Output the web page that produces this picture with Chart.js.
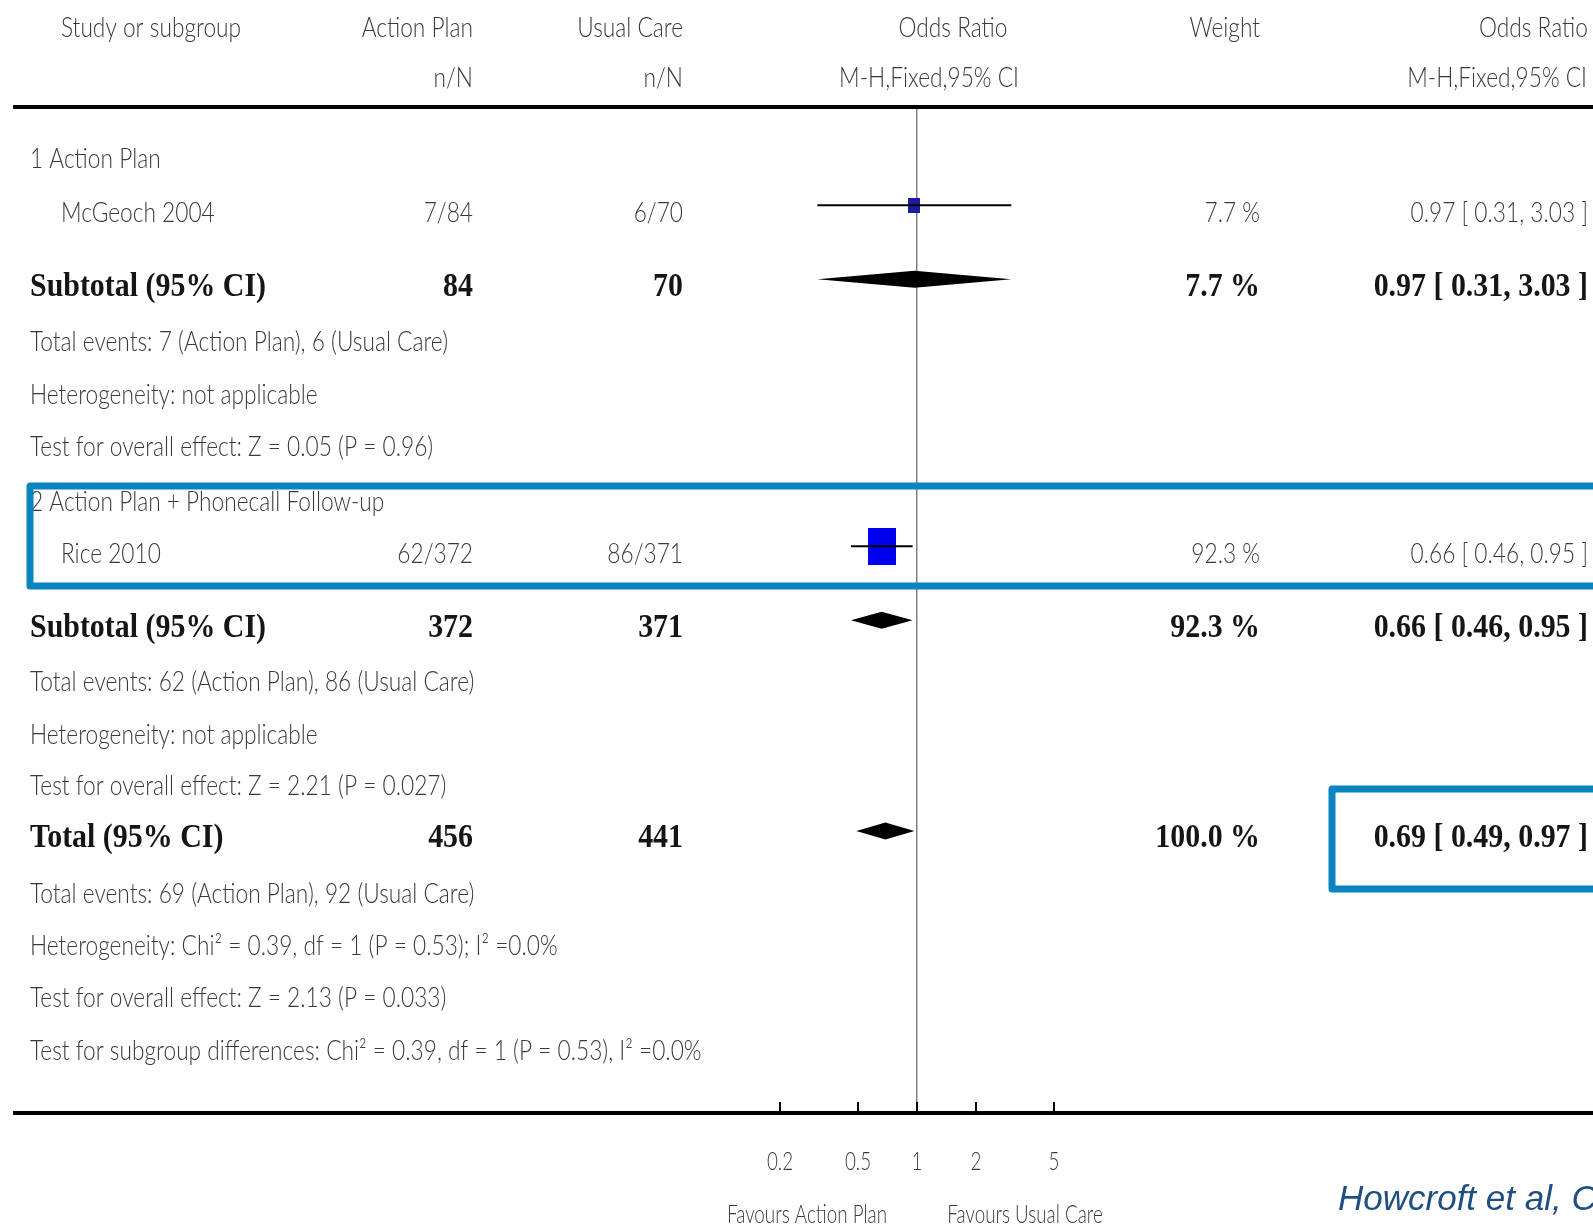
<!DOCTYPE html>
<html>
<head>
<meta charset="utf-8">
<script src="https://cdn.jsdelivr.net/npm/chart.js@4.4.1/dist/chart.umd.min.js"></script>
<style>
  html, body { margin: 0; padding: 0; background: #fff; }
  canvas { display: block; }
</style>
</head>
<body>
<canvas id="forest" width="1593" height="1227"></canvas>
<script>
// ---- data ----
const groupTitles = ['1 Action Plan', '2 Action Plan + Phonecall Follow-up'];
const studyNames = ['McGeoch 2004', 'Rice 2010'];
const apEvents = [7, 62];
const apTotal = [84, 372];
const ucEvents = [6, 86];
const ucTotal = [70, 371];
const studyOR = [0.97, 0.66];
const studyLo = [0.31, 0.46];
const studyHi = [3.03, 0.95];
const studyWeight = [7.7, 92.3];

const pooledNames = ['Subtotal (95% CI)', 'Subtotal (95% CI)', 'Total (95% CI)'];
const pooledAP = [84, 372, 456];
const pooledUC = [70, 371, 441];
const pooledOR = [0.97, 0.66, 0.69];
const pooledLo = [0.31, 0.46, 0.49];
const pooledHi = [3.03, 0.95, 0.97];
const pooledWeight = [7.7, 92.3, 100.0];

const notes = [
  ['Total events: 7 (Action Plan), 6 (Usual Care)', 'Heterogeneity: not applicable', 'Test for overall effect: Z = 0.05 (P = 0.96)'],
  ['Total events: 62 (Action Plan), 86 (Usual Care)', 'Heterogeneity: not applicable', 'Test for overall effect: Z = 2.21 (P = 0.027)'],
  ['Total events: 69 (Action Plan), 92 (Usual Care)', 'Heterogeneity: Chi\u00b2 = 0.39, df = 1 (P = 0.53); I\u00b2 =0.0%',
   'Test for overall effect: Z = 2.13 (P = 0.033)', 'Test for subgroup differences: Chi\u00b2 = 0.39, df = 1 (P = 0.53), I\u00b2 =0.0%']
];

const xTicks = [0.2, 0.5, 1, 2, 5];
const xTickLabels = ['0.2', '0.5', '1', '2', '5'];
const favourLabels = ['Favours Action Plan', 'Favours Usual Care'];

// ---- layout (table lines on the y scale) ----
const headerRows = [-2.5, -1.54];
const groupRows = [0, 6.52];
const studyRows = [1.02, 7.51];
const pooledRows = [2.43, 8.92, 12.93];
const noteRows = [[3.47, 4.48, 5.47], [9.94, 10.95, 11.92], [13.98, 14.97, 15.96, 16.97]];
const squareSize = [[12, 15], [28, 37]];
const squareColor = ['#1c1c9c', '#0000ee'];

const col = { study: 61, left: 30, ap: 473, uc: 683, weight: 1260, or: 1588 };
const textDy = 8;

const body = { font: '300 27px Lato, "Open Sans", sans-serif', color: '#3a3a3a', sx: 1 };
const axis = { font: '300 25px Lato, "Open Sans", sans-serif', color: '#3a3a3a', sx: 1 };
const bold = { font: 'bold 33px "Liberation Serif", "Times New Roman", serif', color: '#151515', sx: 1 };

function text(ctx, s, x, y, st, align) {
  ctx.save();
  ctx.font = st.font;
  ctx.fillStyle = st.color;
  ctx.textBaseline = 'middle';
  ctx.textAlign = 'left';
  const w = ctx.measureText(s).width * st.sx;
  const left = align === 'right' ? x - w : align === 'center' ? x - w / 2 : x;
  ctx.translate(left, y);
  ctx.scale(st.sx, 1);
  ctx.fillText(s, 0, 0);
  ctx.restore();
}

// squeeze the installed fonts to the narrow widths of the original typeface
function calibrate(ctx) {
  ctx.save();
  ctx.font = body.font;
  body.sx = 418 / ctx.measureText(notes[0][0]).width;
  ctx.font = axis.font;
  axis.sx = 160 / ctx.measureText(favourLabels[0]).width;
  ctx.font = bold.font;
  bold.sx = 236 / ctx.measureText(pooledNames[0]).width;
  ctx.restore();
}

function squareImg(w, h, color) {
  const c = document.createElement('canvas');
  c.width = w; c.height = h;
  const g = c.getContext('2d');
  g.fillStyle = color;
  g.fillRect(0, 0, w, h);
  return c;
}

const fmt = v => v.toFixed(2);
const orText = (o, l, h) => `${fmt(o)} [ ${fmt(l)}, ${fmt(h)} ]`;

// one line dataset per study CI
const ciDatasets = studyOR.map((_, i) => ({
  type: 'line',
  data: [{ x: studyLo[i], y: studyRows[i] }, { x: studyHi[i], y: studyRows[i] }],
  borderColor: '#000',
  borderWidth: 2,
  pointRadius: 0,
  order: 1
}));

const forestPlugin = {
  id: 'forest',
  beforeDraw(chart) {
    const ctx = chart.ctx;
    ctx.save();
    ctx.fillStyle = '#fff';
    ctx.fillRect(0, 0, chart.width, chart.height);
    ctx.restore();
    calibrate(ctx);
  },
  afterDatasetsDraw(chart) {
    const ctx = chart.ctx;
    const xs = chart.scales.x, ys = chart.scales.y;
    ctx.save();
    ctx.fillStyle = '#000';
    pooledOR.forEach((o, i) => {
      const y = ys.getPixelForValue(pooledRows[i]);
      const half = 8.5;
      ctx.beginPath();
      ctx.moveTo(xs.getPixelForValue(pooledLo[i]), y);
      ctx.lineTo(xs.getPixelForValue(o), y - half);
      ctx.lineTo(xs.getPixelForValue(pooledHi[i]), y);
      ctx.lineTo(xs.getPixelForValue(o), y + half);
      ctx.closePath();
      ctx.fill();
    });
    ctx.restore();
  },
  afterDraw(chart) {
    const ctx = chart.ctx;
    const xs = chart.scales.x, ys = chart.scales.y;
    const area = chart.chartArea;
    const ty = v => ys.getPixelForValue(v) + textDy;

    // rules
    ctx.save();
    ctx.fillStyle = '#000';
    ctx.fillRect(13, area.top - 2, chart.width - 13, 4);
    ctx.fillRect(13, area.bottom - 2, chart.width - 13, 4);
    ctx.strokeStyle = '#000';
    ctx.lineWidth = 2;
    xTicks.forEach(v => {
      const x = Math.round(xs.getPixelForValue(v));
      ctx.beginPath();
      ctx.moveTo(x, area.bottom - 11);
      ctx.lineTo(x, area.bottom);
      ctx.stroke();
    });
    ctx.restore();

    // axis labels
    xTicks.forEach((v, i) => text(ctx, xTickLabels[i], xs.getPixelForValue(v), 1162, axis, 'center'));
    text(ctx, favourLabels[0], 807, 1215, axis, 'center');
    text(ctx, favourLabels[1], 1025, 1215, axis, 'center');

    // header
    const h1 = ty(headerRows[0]), h2 = ty(headerRows[1]);
    text(ctx, 'Study or subgroup', col.study, h1, body, 'left');
    text(ctx, 'Action Plan', col.ap, h1, body, 'right');
    text(ctx, 'Usual Care', col.uc, h1, body, 'right');
    text(ctx, 'Odds Ratio', 953, h1, body, 'center');
    text(ctx, 'Weight', col.weight, h1, body, 'right');
    text(ctx, 'Odds Ratio', 1479, h1, body, 'left');
    text(ctx, 'n/N', col.ap, h2, body, 'right');
    text(ctx, 'n/N', col.uc, h2, body, 'right');
    text(ctx, 'M-H,Fixed,95% CI', 929, h2, body, 'center');
    text(ctx, 'M-H,Fixed,95% CI', 1587, h2, body, 'right');

    // groups and studies
    groupTitles.forEach((g, i) => text(ctx, g, col.left, ty(groupRows[i]), body, 'left'));
    studyNames.forEach((s, i) => {
      const y = ty(studyRows[i]);
      text(ctx, s, col.study, y, body, 'left');
      text(ctx, `${apEvents[i]}/${apTotal[i]}`, col.ap, y, body, 'right');
      text(ctx, `${ucEvents[i]}/${ucTotal[i]}`, col.uc, y, body, 'right');
      text(ctx, `${studyWeight[i].toFixed(1)} %`, col.weight, y, body, 'right');
      text(ctx, orText(studyOR[i], studyLo[i], studyHi[i]), col.or, y, body, 'right');
    });

    // pooled rows
    pooledNames.forEach((s, i) => {
      const y = ty(pooledRows[i]);
      text(ctx, s, col.left, y, bold, 'left');
      text(ctx, String(pooledAP[i]), col.ap, y, bold, 'right');
      text(ctx, String(pooledUC[i]), col.uc, y, bold, 'right');
      text(ctx, `${pooledWeight[i].toFixed(1)} %`, col.weight, y, bold, 'right');
      text(ctx, orText(pooledOR[i], pooledLo[i], pooledHi[i]), col.or, y, bold, 'right');
    });

    notes.forEach((lines, g) => lines.forEach((s, j) => text(ctx, s, col.left, ty(noteRows[g][j]), body, 'left')));

    // highlight boxes
    ctx.save();
    ctx.strokeStyle = '#0a83c1';
    ctx.lineWidth = 7;
    ctx.lineJoin = 'round';
    ctx.strokeRect(30, 486, chart.width, 100);
    ctx.strokeRect(1332, 789, chart.width, 100);
    ctx.restore();

    // citation
    ctx.save();
    ctx.font = 'italic 35px "Liberation Sans", Arial, sans-serif';
    ctx.fillStyle = '#1f4e80';
    ctx.textBaseline = 'alphabetic';
    ctx.fillText('Howcroft et al, Cochrane 2016', 1338, 1210);
    ctx.restore();
  }
};

new Chart(document.getElementById('forest'), {
  type: 'scatter',
  data: {
    datasets: [
      ...ciDatasets,
      {
        type: 'scatter',
        data: studyOR.map((o, i) => ({ x: o, y: studyRows[i] })),
        pointStyle: studyOR.map((_, i) => squareImg(squareSize[i][0], squareSize[i][1], squareColor[i])),
        pointRadius: 6,
        order: 2
      }
    ]
  },
  options: {
    responsive: false,
    animation: false,
    events: [],
    layout: { padding: { left: 780, right: 539, top: 107, bottom: 114 } },
    plugins: { legend: { display: false }, tooltip: { enabled: false } },
    scales: {
      x: {
        type: 'logarithmic',
        min: 0.2,
        max: 5,
        afterBuildTicks: scale => { scale.ticks = xTicks.map(v => ({ value: v })); },
        ticks: { display: false },
        border: { display: false },
        grid: {
          drawTicks: false,
          lineWidth: 1.5,
          color: c => (c.tick && c.tick.value === 1 ? '#808080' : 'rgba(0,0,0,0)')
        }
      },
      y: {
        type: 'linear',
        reverse: true,
        min: -0.85,
        max: 18.3,
        display: false
      }
    }
  },
  plugins: [forestPlugin]
});
</script>
</body>
</html>
